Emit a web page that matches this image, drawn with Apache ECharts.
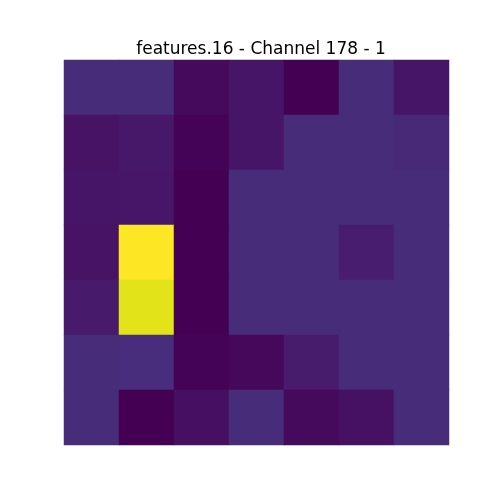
<!DOCTYPE html>
<html lang="en">
<head>
    <meta charset="UTF-8">
    <script src="https://cdn.jsdelivr.net/npm/echarts@6/dist/echarts.min.js"></script>
    <style>
        body, html {
            margin: 0;
            background: #fff;
        }

        #chart {
            width: 500px;
            height: 500px;
        }
    </style>
</head>
<body>
<div id="chart"></div>
<script>
    const titleText = 'features.16 - Channel 178 - 1';
    const xCats = ['0', '1', '2', '3', '4', '5', '6'];
    const yCats = ['0', '1', '2', '3', '4', '5', '6'];
    // activation map, top row first
    const values = [
        [0.125, 0.125, 0.025, 0.055, 0.0, 0.125, 0.055],
        [0.05, 0.065, 0.005, 0.055, 0.125, 0.125, 0.115],
        [0.055, 0.06, 0.0, 0.125, 0.125, 0.125, 0.125],
        [0.05, 1.0, 0.0, 0.125, 0.125, 0.08, 0.125],
        [0.07, 0.955, 0.0, 0.125, 0.125, 0.125, 0.125],
        [0.125, 0.13, 0.005, 0.02, 0.075, 0.125, 0.125],
        [0.125, 0.0, 0.04, 0.125, 0.025, 0.045, 0.125]
    ];
    const viridis = ['#440154', '#471365', '#482475', '#46337f', '#414487', '#3b528b', '#355f8d',
        '#2f6c8e', '#2a788e', '#25848e', '#21918c', '#1e9c89', '#22a884', '#2fb47c', '#44bf70',
        '#5ec962', '#7ad151', '#9bd93c', '#bddf26', '#dfe318', '#fde725'];

    const data = [];
    values.forEach((row, r) => {
        row.forEach((v, c) => {
            data.push([c, r, v]);
        });
    });

    const chart = echarts.init(document.getElementById('chart'));
    chart.setOption({
        animation: false,
        title: {
            text: titleText,
            left: 256,
            textAlign: 'center',
            top: 36,
            textStyle: {fontFamily: 'DejaVu Sans', fontSize: 17, fontWeight: 'normal', color: '#000'}
        },
        grid: {left: 64, top: 60, width: 385, height: 385},
        xAxis: {type: 'category', data: xCats, show: false},
        yAxis: {type: 'category', data: yCats, inverse: true, show: false},
        visualMap: {
            show: false,
            min: 0,
            max: 1,
            dimension: 2,
            inRange: {color: viridis}
        },
        series: [{
            type: 'heatmap',
            data: data,
            itemStyle: {borderWidth: 0}
        }]
    });
</script>
</body>
</html>
